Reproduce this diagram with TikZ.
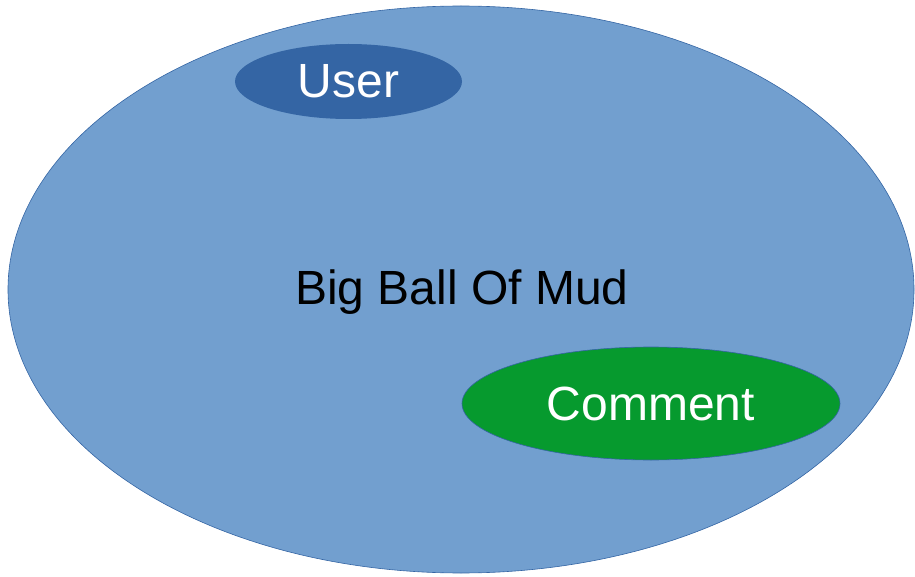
\documentclass[tikz,border=0pt]{standalone}
\usepackage{fontspec}
\setmainfont{Liberation Sans}
\usetikzlibrary{shapes.geometric}
\definecolor{mudblue}{HTML}{729FCF}
\definecolor{darkblue}{HTML}{3465A4}
\definecolor{leafgreen}{HTML}{069A2E}
\tikzset{
  bigfont/.style={font=\fontsize{48}{50}\selectfont},
  blob/.style={ellipse, inner sep=0pt, draw=darkblue, line width=0.6pt, bigfont},
}
\begin{document}
\begin{tikzpicture}[x=1pt,y=-1pt]
  \useasboundingbox (0,0) rectangle (915,577);
  % outer context
  \node[blob, fill=mudblue, minimum width=906pt, minimum height=567pt]
    (mud) at (461,289.5) {};
  \node[bigfont, text=black, inner sep=0pt] (mudlabel) at (462,292) {Big Ball Of Mud};
  % inner models
  \node[blob, fill=darkblue, draw=none, text=white, minimum width=227pt, minimum height=75pt]
    (user) at (348.5,81.5) {User};
  \node[blob, fill=leafgreen, text=white, minimum width=378pt, minimum height=113pt]
    (comment) at (651,403.5) {Comment};
\end{tikzpicture}
\end{document}
